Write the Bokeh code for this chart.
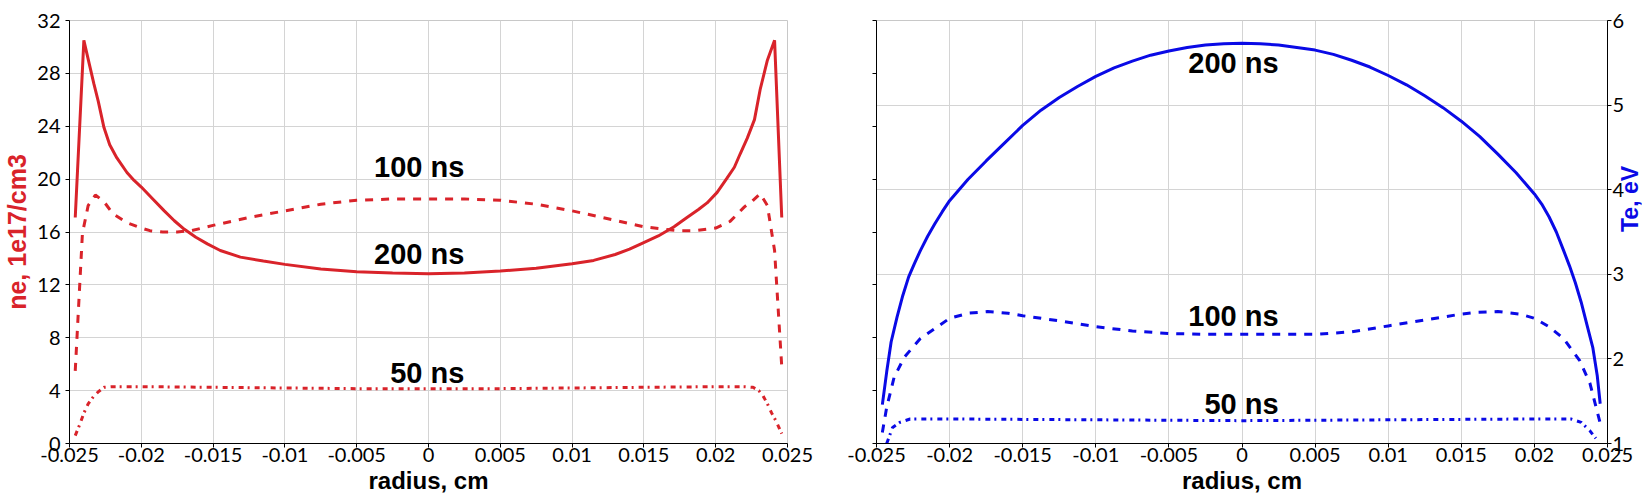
import math
from bokeh.plotting import figure
from bokeh.layouts import row
from bokeh.models import (Range1d, FixedTicker, LinearAxis, CustomJSTickFormatter)
from bokeh.core.properties import value
from bokeh.embed import file_html
from bokeh.resources import INLINE

# ---------------- data ----------------
r_ne_200 = [-0.0246, -0.0240, -0.0236, -0.0233, -0.0230, -0.0226, -0.0222, -0.0217, -0.0210, -0.0205,
            -0.0200, -0.0192, -0.0184, -0.0177, -0.0170, -0.0162, -0.0154, -0.0145, -0.0131, -0.0115,
            -0.0100, -0.0075, -0.0050, -0.0025, 0.0, 0.0025, 0.0050, 0.0075, 0.0100, 0.0115,
            0.0130, 0.0140, 0.0148, 0.0160, 0.0171, 0.0180, 0.0188, 0.0194, 0.0201, 0.0208,
            0.0213, 0.0217, 0.0222, 0.0227, 0.0231, 0.0236, 0.0241, 0.0246]
ne_200 = [17.1, 30.5, 28.6, 27.2, 25.9, 23.9, 22.6, 21.6, 20.5, 19.9,
          19.4, 18.5, 17.6, 16.85, 16.2, 15.6, 15.1, 14.6, 14.1, 13.8,
          13.55, 13.2, 13.0, 12.9, 12.85, 12.9, 13.05, 13.25, 13.6, 13.85,
          14.3, 14.7, 15.1, 15.7, 16.4, 17.1, 17.7, 18.2, 19.0, 20.1,
          20.9, 21.9, 23.1, 24.5, 26.8, 29.0, 30.5, 17.1]

r_ne_100 = [-0.0246, -0.0241, -0.0237, -0.0232, -0.0226, -0.0220, -0.0210, -0.0200, -0.0194, -0.0185,
            -0.0175, -0.0165, -0.0150, -0.0125, -0.0100, -0.0075, -0.0050, -0.0025, 0.0, 0.0025,
            0.0050, 0.0075, 0.0100, 0.0125, 0.0150, 0.0165, 0.0175, 0.0185, 0.0200, 0.0210,
            0.0220, 0.0226, 0.0231, 0.0236, 0.0241, 0.0246]
ne_100 = [5.5, 15.9, 18.0, 18.8, 18.3, 17.4, 16.7, 16.3, 16.1, 16.0,
          16.0, 16.1, 16.5, 17.1, 17.6, 18.1, 18.4, 18.5, 18.5, 18.5,
          18.4, 18.1, 17.6, 17.0, 16.4, 16.2, 16.1, 16.1, 16.3, 16.8,
          17.9, 18.4, 18.9, 18.0, 14.6, 5.8]

r_ne_50 = [-0.0246, -0.0243, -0.0240, -0.0237, -0.0233, -0.0230, -0.0226, -0.0220, -0.0200, -0.0150,
           -0.0100, -0.0050, 0.0, 0.0050, 0.0100, 0.0150, 0.0200, 0.0220, 0.0226, 0.0230,
           0.0233, 0.0236, 0.0239, 0.0242, 0.0246]
ne_50 = [0.6, 1.4, 2.3, 3.0, 3.6, 3.9, 4.25, 4.3, 4.3, 4.25,
         4.2, 4.15, 4.15, 4.15, 4.2, 4.25, 4.3, 4.3, 4.25, 4.0,
         3.6, 3.0, 2.3, 1.7, 0.75]

r_te_200 = [-0.0246, -0.0243, -0.0240, -0.0236, -0.0232, -0.0228, -0.0224, -0.0220, -0.0215, -0.0210,
            -0.0205, -0.0200, -0.01875, -0.0175, -0.01625, -0.0150, -0.01375, -0.0125, -0.01125, -0.0100,
            -0.00875, -0.0075, -0.00625, -0.0050, -0.00375, -0.0025, -0.00125, 0.0, 0.00125, 0.0025,
            0.00375, 0.0050, 0.00625, 0.0075, 0.00875, 0.0100, 0.01125, 0.0125, 0.01375, 0.0150,
            0.01625, 0.0175, 0.01875, 0.0200, 0.0205, 0.0210, 0.0215, 0.0220, 0.0224, 0.0228,
            0.0232, 0.0236, 0.0240, 0.0243, 0.0245]
te_200 = [1.46, 1.85, 2.20, 2.49, 2.75, 2.97, 3.13, 3.28, 3.45, 3.60,
          3.74, 3.87, 4.12, 4.34, 4.55, 4.76, 4.94, 5.09, 5.22, 5.34,
          5.44, 5.52, 5.59, 5.64, 5.68, 5.71, 5.725, 5.73, 5.725, 5.71,
          5.68, 5.65, 5.60, 5.53, 5.45, 5.35, 5.24, 5.11, 4.97, 4.81,
          4.63, 4.42, 4.20, 3.95, 3.83, 3.68, 3.50, 3.28, 3.10, 2.90,
          2.67, 2.40, 2.13, 1.80, 1.47]

r_te_100 = [-0.0246, -0.0243, -0.0238, -0.0231, -0.0220, -0.0200, -0.0187, -0.0174, -0.0160, -0.0150,
            -0.0125, -0.0100, -0.0075, -0.0050, -0.0025, 0.0, 0.0025, 0.0050, 0.0075, 0.0100,
            0.0125, 0.0150, 0.0160, 0.0175, 0.0190, 0.0200, 0.0210, 0.0220, 0.0231, 0.0238,
            0.0245]
te_100 = [1.13, 1.43, 1.78, 2.02, 2.24, 2.48, 2.54, 2.56, 2.54, 2.51,
          2.45, 2.38, 2.33, 2.30, 2.29, 2.29, 2.29, 2.29, 2.32, 2.39,
          2.46, 2.53, 2.55, 2.56, 2.53, 2.48, 2.38, 2.24, 1.98, 1.71,
          1.24]

r_te_50 = [-0.0243, -0.0239, -0.0234, -0.0227, -0.0200, -0.0100, 0.0, 0.0100, 0.0200, 0.0225,
           0.0232, 0.0238, 0.0242]
te_50 = [1.0, 1.19, 1.25, 1.29, 1.29, 1.28, 1.27, 1.28, 1.29, 1.29,
         1.25, 1.15, 1.06]

x_ticks = [-0.025, -0.02, -0.015, -0.01, -0.005, 0.0, 0.005, 0.01, 0.015, 0.02, 0.025]
x_tick_labels = ["-0.025", "-0.02", "-0.015", "-0.01", "-0.005", "0", "0.005", "0.01", "0.015", "0.02", "0.025"]
ne_ticks = [0, 4, 8, 12, 16, 20, 24, 28, 32]
te_ticks = [1, 2, 3, 4, 5, 6]

labels_ne = ["100 ns", "200 ns", "50 ns"]
labels_ne_y = [20.95, 14.3, 5.37]
labels_te = ["200 ns", "100 ns", "50 ns"]
labels_te_y = [5.5, 2.51, 1.47]
label_x = 0.0025

RED = "#d9232a"
BLUE = "#0a0ae6"
GRID = "#d4d4d4"
TICK_FONT = "Lato"
BOLD_FONT = "Liberation Sans"


def style_axis(ax):
    ax.axis_line_color = "black"
    ax.axis_line_width = 1
    ax.major_tick_line_color = "black"
    ax.major_tick_out = 4
    ax.major_tick_in = 0
    ax.minor_tick_line_color = None
    ax.major_label_text_font = TICK_FONT
    ax.major_label_text_font_size = "20px"
    ax.major_label_text_color = "black"
    ax.major_label_standoff = 3
    ax.axis_label_text_font = BOLD_FONT
    ax.axis_label_text_font_style = "bold"
    ax.axis_label_text_font_size = "24px"
    ax.axis_label_text_color = "black"


def style_xaxis(ax):
    style_axis(ax)
    ax.ticker = FixedTicker(ticks=x_ticks)
    ax.major_label_overrides = dict(zip(x_ticks, x_tick_labels))
    ax.axis_label = "radius, cm"
    ax.major_label_standoff = 0
    ax.axis_label_standoff = 2


# ---------------- left: ne ----------------
p1 = figure(frame_width=718, frame_height=423, x_range=Range1d(-0.025, 0.025),
            y_range=Range1d(0, 32), output_backend="svg", toolbar_location=None,
            min_border_left=62, min_border_right=28, min_border_top=20, min_border_bottom=0)
p1.outline_line_color = "#c8c8c8"
p1.xgrid.grid_line_color = GRID
p1.ygrid.grid_line_color = GRID
style_xaxis(p1.xaxis[0])
style_axis(p1.yaxis[0])
p1.xgrid.ticker = FixedTicker(ticks=x_ticks)
p1.yaxis.ticker = FixedTicker(ticks=ne_ticks)
p1.ygrid.ticker = FixedTicker(ticks=ne_ticks)
p1.yaxis.axis_label = "ne, 1e17/cm3"
p1.yaxis.axis_label_text_color = RED
p1.yaxis.axis_label_text_font_size = "25px"
p1.yaxis.major_label_standoff = 5
p1.yaxis.axis_label_standoff = 3

p1.line(r_ne_200, ne_200, line_color=RED, line_width=3)
p1.line(r_ne_100, ne_100, line_color=RED, line_width=3, line_dash="8 8")
p1.line(r_ne_50, ne_50, line_color=RED, line_width=3, line_dash="5 4 2 5")
p1.text(x=[label_x] * 3, y=labels_ne_y, text=labels_ne, text_align="right",
        text_baseline="middle", text_font=value(BOLD_FONT), text_font_style="bold",
        text_font_size="29px", text_color="black")

# ---------------- right: Te ----------------
p2 = figure(frame_width=731, frame_height=423, x_range=Range1d(-0.025, 0.025),
            y_range=Range1d(1, 6), y_axis_location="right",
            output_backend="svg", toolbar_location=None,
            min_border_left=61, min_border_right=0, min_border_top=20, min_border_bottom=0)
p2.outline_line_color = "#c8c8c8"
p2.xgrid.grid_line_color = GRID
p2.ygrid.grid_line_color = GRID
style_xaxis(p2.xaxis[0])
style_axis(p2.yaxis[0])
p2.xgrid.ticker = FixedTicker(ticks=x_ticks)
p2.yaxis.ticker = FixedTicker(ticks=te_ticks)
p2.ygrid.ticker = FixedTicker(ticks=te_ticks)
p2.yaxis.axis_label = "Te, eV"
p2.yaxis.axis_label_text_color = BLUE
p2.yaxis.axis_label_text_font_size = "23px"
p2.yaxis.axis_label_standoff = 3
p2.yaxis.major_label_standoff = 1
if "axis_label_orientation" in p2.yaxis[0].properties():
    p2.yaxis[0].axis_label_orientation = math.pi / 2

p2.extra_y_ranges = {"ne": Range1d(0, 32)}
lax = LinearAxis(y_range_name="ne", ticker=FixedTicker(ticks=ne_ticks),
                 formatter=CustomJSTickFormatter(code="return ''"))
style_axis(lax)
lax.major_label_standoff = 0
p2.add_layout(lax, "left")

p2.line(r_te_200, te_200, line_color=BLUE, line_width=3)
p2.line(r_te_100, te_100, line_color=BLUE, line_width=3, line_dash="8 8")
p2.line(r_te_50, te_50, line_color=BLUE, line_width=3, line_dash="5 4 2 5")
p2.text(x=[label_x] * 3, y=labels_te_y, text=labels_te, text_align="right",
        text_baseline="middle", text_font=value(BOLD_FONT), text_font_style="bold",
        text_font_size="29px", text_color="black")

layout = row(p1, p2, spacing=0)
open("out.html", "w").write(file_html(layout, INLINE))
